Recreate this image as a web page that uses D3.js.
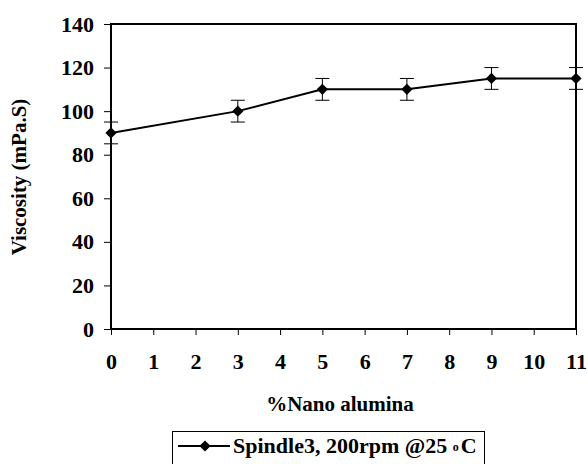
<!DOCTYPE html>
<html>
<head>
<meta charset="utf-8">
<script src="https://cdn.jsdelivr.net/npm/d3@7"></script>
<style>
  body { margin: 0; background: #fff; }
  text { font-family: "Liberation Serif", "Times New Roman", serif; font-weight: bold; fill: #000; }
</style>
</head>
<body>
<div id="chart"></div>
<script>
// data
var nanoPct = [0, 3, 5, 7, 9, 11];
var viscosity = [90, 100, 110, 110, 115, 115];
var errAmount = [5, 5, 5, 5, 5, 5];
var xTicks = [0, 1, 2, 3, 4, 5, 6, 7, 8, 9, 10, 11];
var yTicks = [0, 20, 40, 60, 80, 100, 120, 140];
var seriesName = "Spindle3, 200rpm @25 ";

var width = 588, height = 464;
var plotLeft = 111, plotRight = 576, plotTop = 24, plotBottom = 329;
var tickFont = "22px", titleFont = "21px";

var svg = d3.select("#chart").append("svg")
  .attr("width", width)
  .attr("height", height);

var xScale = d3.scaleLinear().domain([0, 11]).range([plotLeft, plotRight]);
var yScale = d3.scaleLinear().domain([0, 140]).range([plotBottom, plotTop]);

// y axis
svg.append("g")
  .attr("transform", "translate(" + plotLeft + ",0)")
  .call(d3.axisLeft(yScale).tickValues(yTicks).tickSize(7).tickPadding(10))
  .call(function(g) {
    g.select(".domain").remove();
    g.selectAll("line").attr("stroke", "#000").attr("stroke-width", 1);
    g.selectAll("text").attr("font-size", null).attr("font-family", null).style("font-size", tickFont);
  });

// x axis
svg.append("g")
  .attr("transform", "translate(0," + plotBottom + ")")
  .call(d3.axisBottom(xScale).tickValues(xTicks).tickSize(6).tickPadding(18))
  .call(function(g) {
    g.select(".domain").remove();
    g.selectAll("line").attr("stroke", "#000").attr("stroke-width", 1);
    g.selectAll("text").attr("font-size", null).attr("font-family", null).style("font-size", tickFont);
  });

// plot frame
svg.append("rect")
  .attr("x", plotLeft)
  .attr("y", plotTop)
  .attr("width", plotRight - plotLeft)
  .attr("height", plotBottom - plotTop)
  .attr("fill", "none")
  .attr("stroke", "#000")
  .attr("stroke-width", 2);

var points = nanoPct.map(function(x, i) { return {x: x, y: viscosity[i], e: errAmount[i]}; });

// error bars
var err = svg.append("g").attr("stroke", "#000").attr("stroke-width", 1);
points.forEach(function(d) {
  var cx = xScale(d.x);
  err.append("line")
    .attr("x1", cx).attr("x2", cx)
    .attr("y1", yScale(d.y - d.e)).attr("y2", yScale(d.y + d.e));
  [d.y - d.e, d.y + d.e].forEach(function(v) {
    err.append("line")
      .attr("x1", cx - 7).attr("x2", cx + 7)
      .attr("y1", yScale(v)).attr("y2", yScale(v));
  });
});

// series line
svg.append("path")
  .datum(points)
  .attr("fill", "none")
  .attr("stroke", "#000")
  .attr("stroke-width", 2)
  .attr("d", d3.line().x(function(d) { return xScale(d.x); }).y(function(d) { return yScale(d.y); }));

var diamond = d3.symbol().type(d3.symbolDiamond2).size(80);
svg.selectAll(".pt")
  .data(points)
  .enter().append("path")
  .attr("class", "pt")
  .attr("transform", function(d) { return "translate(" + xScale(d.x) + "," + yScale(d.y) + ")"; })
  .attr("d", diamond)
  .attr("fill", "#000");

// axis titles
svg.append("text")
  .attr("x", 340)
  .attr("y", 411)
  .attr("text-anchor", "middle")
  .style("font-size", titleFont)
  .text("%Nano alumina");

svg.append("text")
  .attr("transform", "translate(26,177) rotate(-90)")
  .attr("text-anchor", "middle")
  .style("font-size", titleFont)
  .text("Viscosity (mPa.S)");

// legend
svg.append("rect")
  .attr("x", 172.5)
  .attr("y", 431.5)
  .attr("width", 312)
  .attr("height", 40)
  .attr("fill", "#fff")
  .attr("stroke", "#000")
  .attr("stroke-width", 1);

svg.append("line")
  .attr("x1", 178).attr("x2", 230)
  .attr("y1", 446).attr("y2", 446)
  .attr("stroke", "#000")
  .attr("stroke-width", 2);

svg.append("path")
  .attr("transform", "translate(205,446)")
  .attr("d", diamond)
  .attr("fill", "#000");

var leg = svg.append("text")
  .attr("x", 233)
  .attr("y", 453)
  .style("font-size", tickFont)
  .text(seriesName);
leg.append("tspan").style("font-size", "12px").attr("dy", -2).text("o");
leg.append("tspan").attr("dy", 2).attr("dx", 2).text("C");
</script>
</body>
</html>
